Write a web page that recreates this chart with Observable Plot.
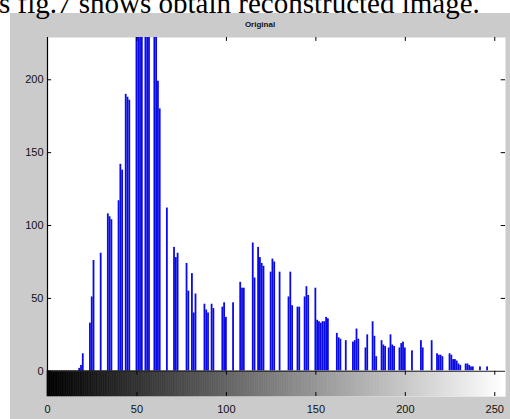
<!DOCTYPE html>
<html><head><meta charset="utf-8">
<script src="https://cdn.jsdelivr.net/npm/d3@7"></script>
<script src="https://cdn.jsdelivr.net/npm/@observablehq/plot@0.6"></script>
<style>
html,body{margin:0;padding:0;background:#fff;}
#page{position:relative;width:510px;height:419px;overflow:hidden;background:#fff;}
#panel{position:absolute;left:10px;top:13px;width:500px;height:406px;background:#cbcbcb;}
#chart{position:absolute;left:10px;top:30px;}
#caption{position:absolute;left:-1px;top:-11px;font-family:"Liberation Serif",serif;font-size:29px;line-height:29px;white-space:nowrap;color:#000;}
#title{position:absolute;left:220px;width:80px;top:21px;text-align:center;font-family:"Liberation Sans",sans-serif;font-size:8px;line-height:8px;font-weight:bold;color:#111;}
</style>
</head><body>
<div id="page">
  <div id="panel"></div>
  <div id="chart"></div>
  <div id="title">Original</div>
  <div id="caption">s fig.7 shows obtain reconstructed image.</div>
</div>
<script>
// Histogram bins (gray level) and their counts (tall peaks are clipped by the axes)
const bins = [18,19,20, 24,25,26, 30, 34,35,36, 40,41,42, 44,45,46, 50,51,52,53, 55,56,57, 60,61,62,63, 67,
  71,72,73, 78,79, 81,82,83, 88,89,90, 92,93, 98,99,100, 104, 108,109,110, 115,116, 118,119,120,121,
  125,126,127, 130, 135,136,137, 140,141, 144,145,146, 150,151,152,153,154,155,156,157,
  162,163,164, 167, 171,172,173,174, 178,179, 182,183,184, 187,188,189, 191,192,193,194,
  197,198,199,200, 204, 209,210, 215, 218,219,220,221, 225,226,227,228,229,230,231,
  234,235,236,237,238, 242, 246];
const counts = [2,4,12, 33,51,76, 81, 108,106,104, 117,142,138, 190,188,186, 250,250,250,250, 250,250,250, 250,250,199,180, 112,
  85,78,81, 74,55, 67,40,53, 46,42,40, 46,43, 44,47,37, 47, 61,57,57, 88,64, 85,78,74,72,
  68,77,75, 68, 51,68,45, 44,44, 51,58,52, 57,35,34,33,34,34,37,36,
  26,23,22, 21, 20,21,29,22, 16,25, 34,24,10, 21,18,17, 16,25,18,17,
  16,19,20,16, 14, 21,16, 21, 12,11,11,10, 12,11,8,8,7,5,4,
  5,5,4,3,3, 3, 3];
const xTicks = [0, 50, 100, 150, 200, 250];
const yTicks = [0, 50, 100, 150, 200];
const grayLevels = d3.range(0, 256); // colorbar under the histogram

const hist = bins.map((b, i) => ({bin: b, count: counts[i]}));
const Y0 = -17.3; // depth of the gray colorbar in count units
const YMAX = 229;

const chart = Plot.plot({
  width: 500, height: 389,
  marginLeft: 37, marginRight: 5, marginTop: 7, marginBottom: 23,
  x: {domain: [0, 256], label: null},
  y: {domain: [Y0, YMAX], label: null},
  style: {background: "transparent", fontFamily: "Liberation Sans, sans-serif", fontSize: "11px", color: "#111"},
  marks: [
    Plot.frame({fill: "white", stroke: null}),
    Plot.rectY(hist, {x1: d => d.bin - 0.5, x2: d => d.bin + 0.5, y1: 0, y2: "count", fill: "#0a0ae6", inset: 0, clip: true}),
    Plot.rect(grayLevels, {x1: d => d, x2: d => d + 1, y1: Y0, y2: 0, fill: d => `rgb(${d},${d},${d})`, stroke: d => `rgb(${d},${d},${d})`, strokeWidth: 0.6, inset: 0}),
    Plot.ruleY([0], {stroke: "#222", strokeWidth: 1}),
    Plot.ruleX([0], {y1: Y0, y2: YMAX, stroke: "#000", strokeWidth: 1.2}),
    Plot.ruleY(yTicks, {x1: 0, x2: 2.3, stroke: "#000"}),
    Plot.ruleY(yTicks.filter(t => t > 0), {x1: 253.6, x2: 256, stroke: "#000"}),
    Plot.ruleX(xTicks, {y1: Y0, y2: Y0 + 2.7, stroke: "#000"}),
    Plot.ruleX(xTicks, {y1: -2.7, y2: 0, stroke: "#000"}),
    Plot.ruleX(xTicks.filter(t => t > 0), {y1: YMAX - 2.7, y2: YMAX, stroke: "#000"}),
    Plot.axisY(yTicks, {tickSize: 0, tickPadding: 4, fontSize: 11}),
    Plot.axisX(xTicks, {tickSize: 0, tickPadding: 9, fontSize: 11})
  ]
});
document.getElementById("chart").appendChild(chart);
</script>
</body></html>
